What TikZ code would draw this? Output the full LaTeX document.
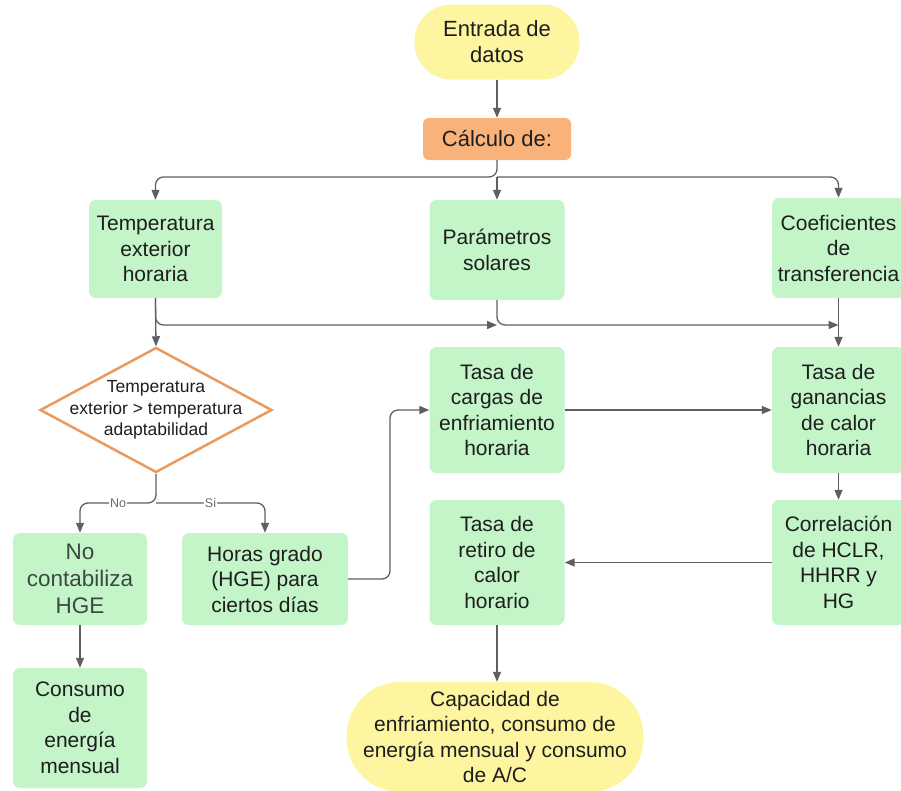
\documentclass[tikz,border=0pt]{standalone}
\usepackage{fontspec}
\setmainfont{Liberation Sans}
\usetikzlibrary{arrows.meta,shapes.geometric}
\definecolor{boxgreen}{HTML}{C3F5C8}
\definecolor{termyellow}{HTML}{FDF5A0}
\definecolor{calcorange}{HTML}{F9B27A}
\definecolor{diaorange}{HTML}{EA9A5E}
\definecolor{linegray}{HTML}{5F5F5F}
\definecolor{txt}{HTML}{1E1E1E}
\definecolor{nogray}{HTML}{3A4A40}
\definecolor{lblgray}{HTML}{6A6A6A}
\begin{document}
\begin{tikzpicture}[x=1pt,y=-1pt,
  box/.style={fill=boxgreen, rounded corners=7pt, minimum width=134pt, align=center, text=txt, font=\fontsize{21}{25.5}\selectfont, inner sep=2pt},
  term/.style={fill=termyellow, align=center, text=txt, font=\fontsize{21}{25.5}\selectfont, inner sep=2pt},
  arr/.style={draw=linegray, line width=1.3pt, -{Triangle[length=10pt,width=8pt]}, rounded corners=8pt},
  lbl/.style={fill=white, text=lblgray, font=\fontsize{12.5}{13}\selectfont, inner sep=1pt}]
\useasboundingbox (0,0) rectangle (901,790);

% nodes
\node[term, minimum width=165pt, minimum height=75pt, rounded corners=37pt, font=\fontsize{22}{26}\selectfont] (ent) at (497,42) {Entrada de\\datos};
\node[fill=calcorange, rounded corners=6pt, minimum width=148pt, minimum height=42pt, font=\fontsize{22}{26}\selectfont, text=txt] (calc) at (497,139) {Cálculo de:};

\node[box, minimum width=133pt, minimum height=98pt] (temp) at (155.5,249) {Temperatura\\exterior\\horaria};
\node[box, minimum width=135pt, minimum height=100pt] (par) at (497,250) {Parámetros\\solares};
\node[box, minimum width=133pt, minimum height=100pt] (coef) at (838.5,248) {Coeficientes\\de\\transferencia};

\node[diamond, draw=diaorange, line width=2.5pt, fill=white, minimum width=232pt, minimum height=125pt, inner sep=0pt] (dia) at (156,410) {};
\node[align=center, text=txt, font=\fontsize{17.5}{21.5}\selectfont] (diatext) at (dia.center) {Temperatura\\exterior > temperatura\\adaptabilidad};

\node[box, minimum width=134pt, minimum height=92pt, text=nogray, font=\fontsize{22.5}{27}\selectfont] (nob) at (80,579) {No\\contabiliza\\HGE};
\node[box, minimum width=166pt, minimum height=92pt] (hge) at (265,579) {Horas grado\\(HGE) para\\ciertos días};
\node[box, minimum width=134pt, minimum height=120pt] (cons) at (80,728) {Consumo\\de\\energía\\mensual};

\node[box, minimum width=135pt, minimum height=126pt] (cargas) at (497,410) {Tasa de\\cargas de\\enfriamiento\\horaria};
\node[box, minimum width=133pt, minimum height=126pt] (gan) at (838.5,410) {Tasa de\\ganancias\\de calor\\horaria};
\node[box, minimum width=133pt, minimum height=125pt] (corr) at (838.5,562.5) {Correlación\\de HCLR,\\HHRR y\\HG};
\node[box, minimum width=135pt, minimum height=125pt] (ret) at (497,562.5) {Tasa de\\retiro de\\calor\\horario};
\node[term, minimum width=297pt, minimum height=110pt, rounded corners=54pt] (cap) at (495,737) {Capacidad de\\enfriamiento, consumo de\\energía mensual y consumo\\de A/C};

% coordinates
\coordinate (split) at (497,177);
\coordinate (j1) at (497,325);
\coordinate (j2) at (838.5,325);
\coordinate (dsplit) at (156,503);
\coordinate (hbend) at (390,579);

% connectors
\draw[arr] (ent) -- (calc);
\draw[arr] (calc.south) -- (split) -| (temp.north);
\draw[arr] (split) -| (coef.north);
\draw[arr] (split) -- (par.north);
\draw[arr] (temp.south) |- (j1);
\draw[arr] (temp.south) -- (dia.north);
\draw[arr] (par.south) |- (j2);
\draw[arr] (coef.south) -- (gan.north);
\draw[arr] (dia.south) -- (dsplit) -| node[pos=0.25, lbl] {No} (nob.north);
\draw[arr] (dsplit) -| node[pos=0.25, lbl] {Si} (hge.north);
\draw[arr] (hge.east) -- (hbend) |- (cargas.west);
\draw[arr] (cargas) -- (gan);
\draw[arr] (gan) -- (corr);
\draw[arr] (corr) -- (ret);
\draw[arr] (ret.south) -- (ret.south |- cap.north);
\draw[arr] (nob) -- (cons);
\end{tikzpicture}
\end{document}
